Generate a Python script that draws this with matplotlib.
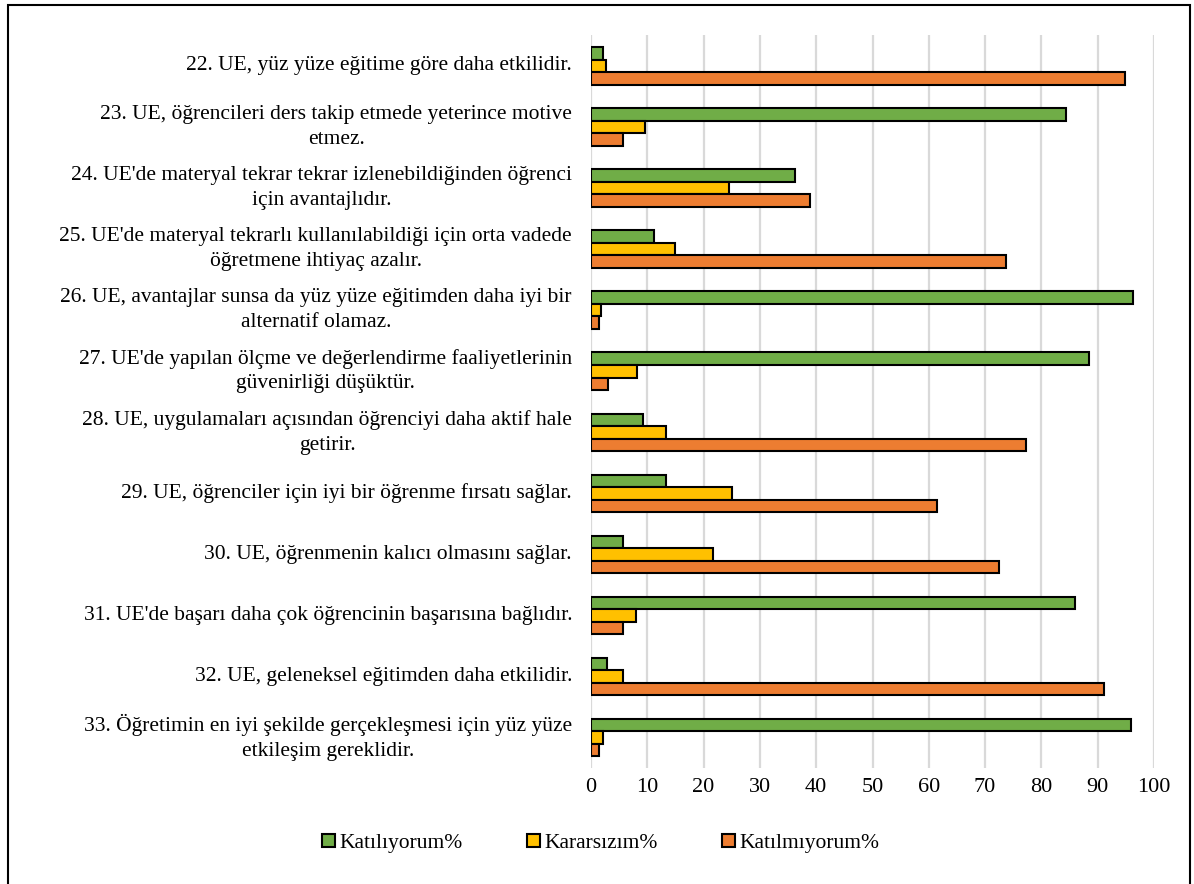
import matplotlib.pyplot as plt
import matplotlib.transforms as mtransforms
from matplotlib.patches import Rectangle
import numpy as np

plt.rcParams['font.family'] = ['Liberation Serif', 'DejaVu Serif']

# statement labels (the "\n" is where the original wraps)
labels = [
    "22. UE, yüz yüze eğitime göre daha etkilidir.",
    "23. UE, öğrencileri ders takip etmede yeterince motive\netmez.",
    "24. UE'de materyal tekrar tekrar izlenebildiğinden öğrenci\niçin avantajlıdır.",
    "25. UE'de materyal tekrarlı kullanılabildiği için orta vadede\nöğretmene ihtiyaç azalır.",
    "26. UE, avantajlar sunsa da yüz yüze eğitimden daha iyi bir\nalternatif olamaz.",
    "27. UE'de yapılan ölçme ve değerlendirme faaliyetlerinin\ngüvenirliği düşüktür.",
    "28. UE, uygulamaları açısından öğrenciyi daha aktif hale\ngetirir.",
    "29. UE, öğrenciler için iyi bir öğrenme fırsatı sağlar.",
    "30. UE, öğrenmenin kalıcı olmasını sağlar.",
    "31. UE'de başarı daha çok öğrencinin başarısına bağlıdır.",
    "32. UE, geleneksel eğitimden daha etkilidir.",
    "33. Öğretimin en iyi şekilde gerçekleşmesi için yüz yüze\netkileşim gereklidir.",
]

katiliyorum = [2.1, 84.4, 36.3, 11.2, 96.3, 88.4, 9.2, 13.3, 5.7, 86.0, 2.8, 95.9]
kararsizim = [2.7, 9.6, 24.5, 14.9, 1.8, 8.1, 13.3, 25.0, 21.7, 8.0, 5.7, 2.2]
katilmiyorum = [94.9, 5.7, 38.9, 73.7, 1.5, 3.1, 77.2, 61.5, 72.4, 5.7, 91.1, 1.5]

series = [
    ("Katılıyorum%", katiliyorum, "#70AD47"),
    ("Kararsızım%", kararsizim, "#FFC000"),
    ("Katılmıyorum%", katilmiyorum, "#ED7D31"),
]

fig = plt.figure(figsize=(11.94, 8.84), dpi=100)
ax = fig.add_axes([0.495, 0.131, 0.4715, 0.829])

y = np.arange(len(labels))
h = 0.205
for k, (name, vals, col) in enumerate(series):
    ax.barh(y + (k - 1) * h, vals, height=h, color=col, edgecolor='black',
            linewidth=1.5, label=name, zorder=3)

ax.set_xlim(0, 100)
ax.set_ylim(len(labels) - 0.5, -0.5)
ax.set_xticks(np.arange(0, 101, 10))
ax.tick_params(axis='x', length=0, labelsize=16, pad=7)
ax.set_yticks([])
ax.grid(axis='x', color='#d9d9d9', linewidth=1.6, zorder=0)
for s in ax.spines.values():
    s.set_visible(False)

# category labels, right edge a little left of the axis
trans = mtransforms.blended_transform_factory(fig.transFigure, ax.transData)
for i, lab in enumerate(labels):
    ax.text(572 / 1194, i, lab, transform=trans, ha='right', va='center',
            multialignment='center', linespacing=1.4, fontsize=15.5)

fig.legend(loc='center', bbox_to_anchor=(0.503, 0.046), ncol=3, frameon=False,
           fontsize=15.5, handlelength=0.6, handleheight=0.6, handletextpad=0.2,
           columnspacing=3.0)

fig.patches.append(Rectangle((8 / 1194, -0.01), 1182 / 1194, 1.01 - 5 / 884,
                             transform=fig.transFigure, fill=False,
                             edgecolor='black', linewidth=1.5))

fig.savefig('out.png', dpi=100)
